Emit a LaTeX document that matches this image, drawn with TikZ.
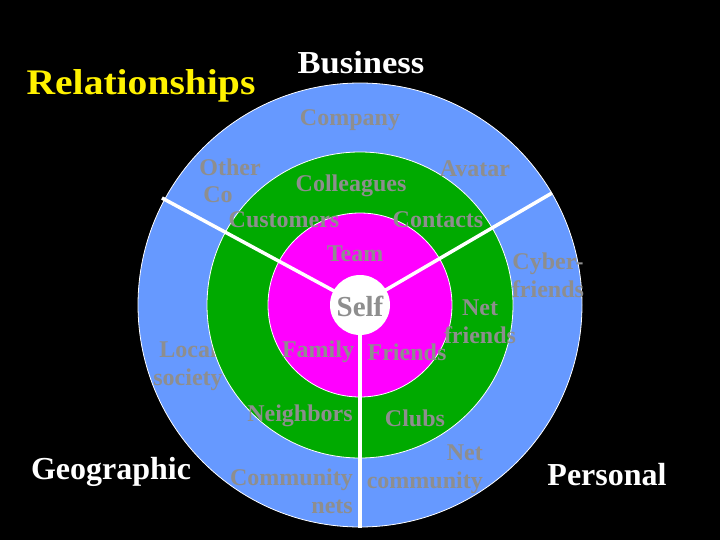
\documentclass[tikz,border=0pt]{standalone}
\usepackage{fontspec}
\setmainfont{Liberation Serif}
\definecolor{ringblue}{HTML}{6699FF}
\definecolor{ringgreen}{HTML}{00AA00}
\definecolor{ringmag}{HTML}{FF00FF}
\definecolor{labgray}{HTML}{8E8E8E}
\tikzset{
  ring/.style={circle, draw=white, line width=0.8pt, inner sep=0pt},
  lab/.style={font=\fontsize{24}{28}\selectfont\bfseries, text=labgray, inner sep=0pt, align=center, yshift=-2pt},
  labr/.style={lab, align=right},
  sep/.style={draw=white, line width=3.5pt},
  title/.style={font=\fontsize{32}{36}\selectfont\bfseries, text=white, inner sep=0pt}
}
\begin{document}
\begin{tikzpicture}[x=1pt,y=-1pt]
\fill[black] (0,0) rectangle (720,540);
\useasboundingbox (0,0) rectangle (720,540);
% titles
\node[title, text=yellow, font=\fontsize{36}{40}\selectfont\bfseries, xscale=1.1] (rel) at (141,86) {Relationships};
\node[title, font=\fontsize{32}{36}\selectfont\bfseries, xscale=1.08] (bus) at (361,63) {Business};
\node[title] (geo) at (111,472) {Geographic};
\node[title] (per) at (607,475) {Personal};
% rings
\node[ring, fill=ringblue, minimum size=444pt] (outer) at (360,305) {};
\node[lab] (local) at (188,364) {Local\\society};
\node[ring, fill=ringgreen, minimum size=306pt] (mid) at (360,305) {};
\node[ring, fill=ringmag, minimum size=184pt] (inner) at (360,305) {};
% separators
\coordinate (c) at (360,305);
\coordinate (ul) at (162,198);
\coordinate (ur) at (552,193);
\coordinate (dn) at (360,528);
\draw[sep] (c) -- (ul);
\draw[sep] (c) -- (ur);
\draw[sep] (c) -- (dn);
\node[circle, fill=white, minimum size=60pt, inner sep=0pt] (self) at (360,305) {};
\node[lab, font=\fontsize{29}{30}\selectfont\bfseries, yshift=0pt] (selft) at (360,304) {Self};
% labels
\node[lab] (company) at (350,118) {Company};
\node[lab] (other) at (230,165) {Other};
\node[lab] (co) at (218,193) {Co};
\node[lab] (avatar) at (475,167) {Avatar};
\node[lab] (coll) at (351,184) {Colleagues};
\node[lab] (cust) at (284,218) {Customers};
\node[lab] (cont) at (438,218) {Contacts};
\node[lab] (team) at (355,252) {Team};
\node[lab] (cyber) at (548,273) {Cyber-\\friends};
\node[lab] (netf) at (480,320) {Net\\friends};
\node[lab] (family) at (318,350) {Family};
\node[lab] (friends) at (407,350) {Friends};
\node[lab] (neigh) at (300,414) {Neighbors};
\node[lab] (clubs) at (415,416) {Clubs};
\node[labr, anchor=east] (netc) at (483,467) {Net\\community};
\node[labr, anchor=east] (commn) at (353,489) {Community\\nets};
\end{tikzpicture}
\end{document}
